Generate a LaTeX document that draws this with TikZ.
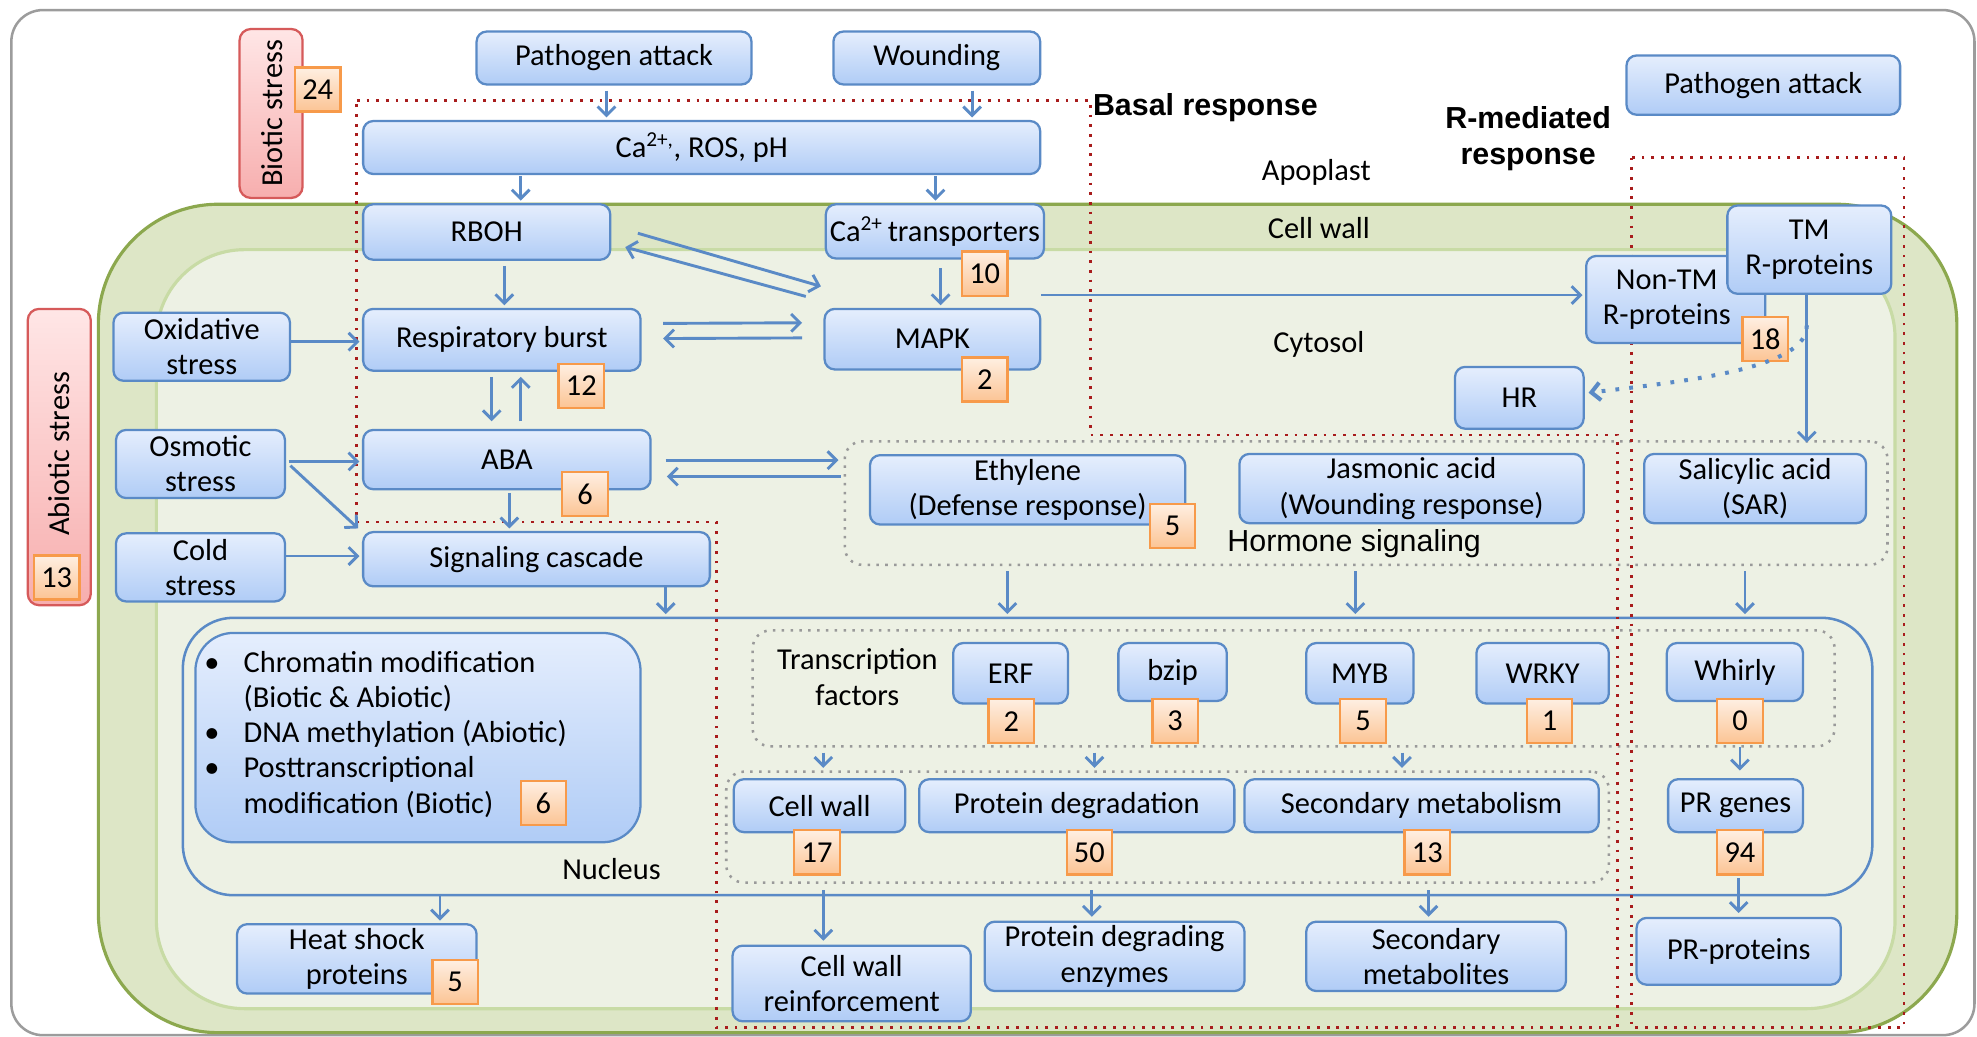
\documentclass[tikz,border=0pt]{standalone}
\usepackage{fontspec}
\setmainfont{Carlito}
\newfontfamily\arialf{Liberation Sans}
\usetikzlibrary{arrows.meta,fit,calc}
\definecolor{bblue}{HTML}{5A8AC6}
\definecolor{btop}{HTML}{E5EEFD}
\definecolor{bbot}{HTML}{B0CCF6}
\definecolor{oedge}{HTML}{F79A4A}
\definecolor{otop}{HTML}{FEEFE2}
\definecolor{obot}{HTML}{FCC494}
\definecolor{redge}{HTML}{D65A5A}
\definecolor{rtop}{HTML}{FFE6E6}
\definecolor{rbot}{HTML}{F7AEAE}
\definecolor{wallfill}{HTML}{DDE6C6}
\definecolor{walledge}{HTML}{8CA84E}
\definecolor{cytofill}{HTML}{EDF1E4}
\definecolor{cytoedge}{HTML}{C8DBA5}
\definecolor{dred}{HTML}{A81C1C}
\definecolor{dgray}{HTML}{9A9A9A}
\definecolor{frameg}{HTML}{9C9C9C}
\newcommand\fsz{\fontsize{24.2}{28}\selectfont}
\newcommand\bx[6]{\pgfmathsetmacro\bxw{#4-#2}\pgfmathsetmacro\bxh{#5-#3}%
  \node[box, minimum width=\bxw bp, minimum height=\bxh bp] (#1) at ({(#2+#4)/2},{(#3+#5)/2}) {#6};}
\begin{document}
\begin{tikzpicture}[x=1bp,y=-1bp,
 box/.style={draw=bblue, line width=1.8bp, rounded corners=8bp, top color=btop, bottom color=bbot, inner sep=0pt, align=center, font=\fsz},
 badge/.style={draw=oedge, line width=1.8bp, top color=otop, bottom color=obot, minimum width=36bp, minimum height=35bp, inner sep=0pt, font=\fsz},
 sbox/.style={draw=redge, line width=1.8bp, rounded corners=9bp, top color=rtop, bottom color=rbot, inner sep=0pt},
 arr/.style={draw=bblue, line width=2.3bp, shorten <=4bp, shorten >=2bp, -{Straight Barb[length=7bp,width=14bp]}},
 dotarr/.style={draw=bblue, line width=3.2bp, dash pattern=on 3bp off 8bp, -{Straight Barb[length=7bp,width=14bp]}},
 reddot/.style={draw=dred, line width=2.2bp, dash pattern=on 2.2bp off 5.5bp},
 graydot/.style={draw=dgray, line width=2bp, dash pattern=on 2bp off 5bp, rounded corners=14bp, inner sep=0pt},
 lbl/.style={font=\fsz, inner sep=0pt, align=center},
]
\useasboundingbox (0,0) rectangle (1568,822);
\fill[white] (0,0) rectangle (1568,822);
\draw[draw=frameg, line width=2bp, rounded corners=25bp] (9,8) rectangle (1566,821);
% cell
\draw[draw=walledge, fill=wallfill, line width=2.5bp, rounded corners=95bp] (78,162) rectangle (1552,819);
\draw[draw=cytoedge, fill=cytofill, line width=2.5bp, rounded corners=70bp] (124,198) rectangle (1503,800);
\node[draw=bblue, line width=2bp, rounded corners=40bp, inner sep=0pt, fit={(145,490) (1485,710)}] (nuc) {};
% groups
\node[graydot, fit={(670,350) (1497,448)}] (hgrp) {};
\node[graydot, fit={(597,500) (1455,592)}] (tfgrp) {};
\node[graydot, fit={(576,612) (1276,700)}] (dgrp) {};
\draw[reddot] (283,80) -- (865,80) -- (865,345) -- (1283,345) -- (1283,815) -- (568,815) -- (568,414) -- (283,414) -- cycle;
\draw[reddot] (1294,125) rectangle (1510,815);
% labels
\node[lbl] (apo) at (1044,137) {Apoplast};
\node[lbl] (cwl) at (1046,181) {Cell wall};
\node[lbl] (cyt) at (1046,273) {Cytosol};
\node[lbl] (nucl) at (485,689) {Nucleus};
\node[lbl, font=\arialf\bfseries\fsz] (basal) at (956,85) {Basal response};
\node[lbl, font=\arialf\bfseries\fsz] (rmed) at (1212,110) {R-mediated\\response};
\node[lbl, font=\arialf\fsz] (hsig) at (1074,431) {Hormone signaling};
\node[lbl] (tfl) at (680,537) {Transcription\\factors};
% stress boxes
\node[sbox, fit={(190,23) (240,157)}] (biot) {};
\node[lbl, rotate=90] (biottxt) at (216,90) {Biotic stress};
\node[sbox, fit={(22,245) (72,480)}] (abiot) {};
\node[lbl, rotate=90] (abiottxt) at (47,360) {Abiotic stress};
% boxes
\bx{patha}{378}{25}{596}{67}{Pathogen attack}
\bx{wound}{661}{25}{825}{67}{Wounding}
\bx{ros}{288}{96}{825}{138}{Ca\textsuperscript{2+,}, ROS, pH}
\bx{rboh}{288}{162}{484}{206}{RBOH}
\bx{catr}{655}{162}{828}{205}{Ca\textsuperscript{2+}\,transporters}
\bx{resp}{288}{245}{508}{294}{Respiratory burst}
\bx{mapk}{654}{245}{825}{293}{MAPK}
\bx{oxid}{90}{248}{230}{302}{Oxidative\\stress}
\bx{osm}{92}{341}{226}{395}{Osmotic\\stress}
\bx{cold}{92}{423}{226}{477}{Cold\\stress}
\bx{aba}{288}{341}{516}{388}{ABA}
\bx{sig}{288}{422}{563}{465}{Signaling cascade}
\bx{pathb}{1290}{44}{1507}{91}{Pathogen attack}
\bx{nontm}{1258}{203}{1400}{272}{}
\node[lbl] (nontmtxt) at (1322,238) {Non-TM\\R-proteins};
\bx{tm}{1370}{163}{1500}{233}{TM\\R-proteins}
\bx{hr}{1154}{291}{1256}{340}{HR}
\bx{eth}{690}{361}{940}{416}{Ethylene\\(Defense response)}
\bx{jas}{983}{360}{1256}{415}{Jasmonic acid\\(Wounding response)}
\bx{sal}{1304}{360}{1480}{415}{Salicylic acid\\(SAR)}
\node[box, rounded corners=30bp, minimum width=353bp, minimum height=166bp] (chrom) at (331.5,585) {};
\bx{erf}{756}{510}{847}{558}{ERF}
\bx{bzip}{887}{510}{973}{556}{bzip}
\bx{myb}{1036}{510}{1121}{558}{MYB}
\bx{wrky}{1171}{510}{1276}{558}{WRKY}
\bx{whirly}{1322}{510}{1430}{556}{Whirly}
\bx{cw}{582}{618}{718}{660}{Cell wall}
\bx{pdeg}{729}{618}{979}{660}{Protein degradation}
\bx{smet}{987}{618}{1268}{660}{Secondary metabolism}
\bx{prg}{1323}{618}{1430}{660}{PR genes}
\bx{hsp}{188}{733}{378}{788}{Heat shock\\proteins}
\bx{cwr}{581}{750}{770}{810}{Cell wall\\reinforcement}
\bx{pde}{781}{731}{987}{786}{Protein degrading\\enzymes}
\bx{smeta}{1036}{731}{1242}{786}{Secondary\\metabolites}
\bx{prp}{1298}{728}{1460}{781}{PR-proteins}
% chromatin text
\node[lbl, anchor=base] (bul1) at (168,533) {\textbullet};
\node[lbl, anchor=base west] (cm1) at (193,533) {Chromatin modification};
\node[lbl, anchor=base west] (cm2) at (193,561) {(Biotic \& Abiotic)};
\node[lbl, anchor=base] (bul2) at (168,589) {\textbullet};
\node[lbl, anchor=base west] (dna) at (193,589) {DNA methylation (Abiotic)};
\node[lbl, anchor=base] (bul3) at (168,617) {\textbullet};
\node[lbl, anchor=base west] (pt1) at (193,617) {Posttranscriptional};
\node[lbl, anchor=base west] (pt2) at (193,645) {modification (Biotic)};
% badges
\node[badge] (b24) at (252,71) {24};
\node[badge] (b13a) at (45,458) {13};
\node[badge] (b10) at (781,217) {10};
\node[badge] (b12) at (461,306) {12};
\node[badge] (b2m) at (781,301) {2};
\node[badge] (b6a) at (464,392) {6};
\node[badge] (b18) at (1400,269) {18};
\node[badge] (b5e) at (930,417) {5};
\node[badge] (b6c) at (431,637) {6};
\node[badge] (b2e) at (802,572) {2};
\node[badge] (b3) at (932,572) {3};
\node[badge] (b5m) at (1081,572) {5};
\node[badge] (b1) at (1229,572) {1};
\node[badge] (b0) at (1380,572) {0};
\node[badge] (b17) at (648,676) {17};
\node[badge] (b50) at (864,676) {50};
\node[badge] (b13s) at (1132,676) {13};
\node[badge] (b94) at (1380,676) {94};
\node[badge] (b5h) at (361,779) {5};
% arrows
\draw[arr] (patha.south -| 481,0) -- (ros.north -| 481,0);
\draw[arr] (wound.south -| 771,0) -- (ros.north -| 771,0);
\draw[arr, shorten <=1bp] (ros.south -| 413,0) -- (rboh.north -| 413,0);
\draw[arr, shorten <=1bp] (ros.south -| 742,0) -- (catr.north -| 742,0);
\draw[arr, shorten <=0bp, shorten >=0bp] ($(rboh.east)+(21,1)$) -- ($(mapk.north west)+(-2,-17)$);
\draw[arr, shorten <=0bp, shorten >=0bp] ($(mapk.north west)+(-14,-9)$) -- ($(rboh.east)+(11,12)$);
\draw[arr] (rboh.south -| 400,0) -- (resp.north -| 400,0);
\draw[arr, shorten <=7bp] (catr.south -| 746,0) -- (mapk.north -| 746,0);
\draw[arr, shorten <=0bp, shorten >=0bp] ([shift={(17,-13)}]resp.east) -- ([shift={(-17,-13)}]mapk.west);
\draw[arr, shorten <=0bp, shorten >=0bp] ([shift={(-17,-1)}]mapk.west) -- ([shift={(17,-1)}]resp.east);
\draw[arr, shorten <=0bp] (oxid.east |- 0,271) -- (resp.west |- 0,271);
\draw[arr, shorten >=6bp] (resp.south -| 390,0) -- (aba.north -| 390,0);
\draw[arr, shorten <=6bp, shorten >=4bp] (aba.north -| 413,0) -- (resp.south -| 413,0);
\draw[arr, shorten <=2bp] (osm.east |- 0,366) -- (aba.west |- 0,366);
\draw[arr, shorten <=2bp, shorten >=0bp] ($(osm.east)+(2,0)$) -- ($(sig.north west)+(-3,-2)$);
\draw[arr, shorten <=0bp] (cold.east |- 0,441) -- (sig.west |- 0,441);
\draw[arr, shorten <=2bp] (aba.south -| 404,0) -- (sig.north -| 404,0);
\draw[arr, shorten <=11bp, shorten >=4bp] (aba.east |- 0,365) -- (hgrp.west |- 0,365);
\draw[arr, shorten <=2bp, shorten >=12bp] (hgrp.west |- 0,378) -- (aba.east |- 0,378);
\draw[arr, shorten <=0bp] (mapk.north east |- 0,234) -- (nontm.west |- 0,234);
\draw[arr, shorten <=0bp, shorten >=8bp] (tm.south -| 1433,0) -- (sal.north -| 1433,0);
\draw[dotarr] (1433,258) .. controls (1434,292) and (1340,302) .. ($(hr.east)+(3,-4)$);
\draw[arr, shorten <=0bp] (sig.south -| 528,0) -- (nuc.north -| 528,0);
\draw[arr] (hgrp.south -| 799,0) -- (nuc.north -| 799,0);
\draw[arr] (hgrp.south -| 1075,0) -- (nuc.north -| 1075,0);
\draw[arr] (hgrp.south -| 1384,0) -- (nuc.north -| 1384,0);
\draw[arr] (tfgrp.south -| 653,0) -- (dgrp.north -| 653,0);
\draw[arr] (tfgrp.south -| 868,0) -- (dgrp.north -| 868,0);
\draw[arr] (tfgrp.south -| 1112,0) -- (dgrp.north -| 1112,0);
\draw[arr, shorten <=2bp, shorten >=6bp] (b0.south -| 1380,0) -- (prg.north -| 1380,0);
\draw[arr, shorten <=0bp] (nuc.south -| 349,0) -- (hsp.north -| 349,0);
\draw[arr, shorten <=5bp, shorten >=3bp] (dgrp.south -| 653,0) -- (cwr.north -| 653,0);
\draw[arr, shorten <=5bp, shorten >=3bp] (dgrp.south -| 866,0) -- (pde.north -| 866,0);
\draw[arr, shorten <=5bp, shorten >=3bp] (dgrp.south -| 1133,0) -- (smeta.north -| 1133,0);
\draw[arr, shorten <=2bp, shorten >=3bp] (b94.south -| 1379,0) -- (prp.north -| 1379,0);
\end{tikzpicture}
\end{document}
